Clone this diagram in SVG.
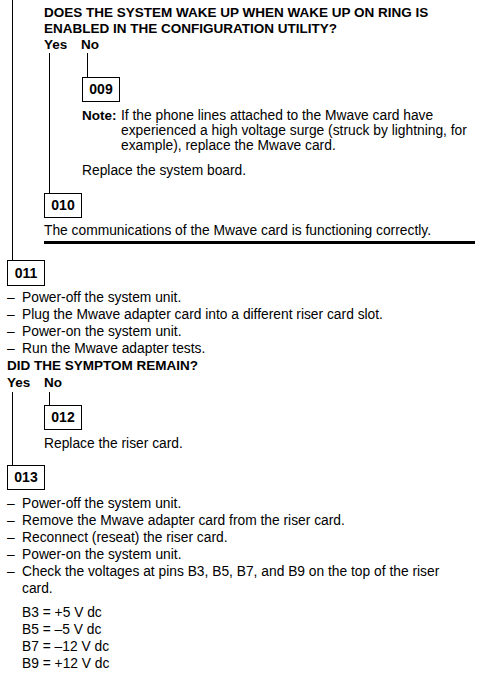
<svg xmlns="http://www.w3.org/2000/svg" width="483" height="677" viewBox="0 0 483 677">
<style>
text{font-family:"Liberation Sans",Arial,sans-serif;font-size:13.8px;fill:#000}
.b{font-weight:bold;font-size:13.5px}
.box{fill:#fff;stroke:#000;stroke-width:1}
.num{font-weight:bold;font-size:14px;text-anchor:middle}
.ln{stroke:#000;stroke-width:1;fill:none}
</style>
<rect width="483" height="677" fill="#fff"/>
<g id="connectors">
<line class="ln" x1="12.5" y1="0" x2="12.5" y2="260"/>
<line class="ln" x1="49.5" y1="53" x2="49.5" y2="193"/>
<line class="ln" x1="87.5" y1="53" x2="87.5" y2="77"/>
<line class="ln" x1="12.5" y1="392" x2="12.5" y2="465"/>
<line class="ln" x1="49.5" y1="392" x2="49.5" y2="405"/>
<line x1="44" y1="242.5" x2="475" y2="242.5" stroke="#000" stroke-width="3"/>
</g>
<g id="q1">
<text class="b" x="44" y="17">DOES THE SYSTEM WAKE UP WHEN WAKE UP ON RING IS</text>
<text class="b" x="44" y="33">ENABLED IN THE CONFIGURATION UTILITY?</text>
<text class="b" x="44" y="49">Yes</text>
<text class="b" x="81" y="49">No</text>
</g>
<g id="n009">
<rect class="box" x="82.5" y="77.5" width="37" height="24"/>
<text class="num" x="101" y="94">009</text>
<text class="b" x="82" y="120">Note:</text>
<text x="121" y="120">If the phone lines attached to the Mwave card have</text>
<text x="121" y="135">experienced a high voltage surge (struck by lightning, for</text>
<text x="121" y="150">example), replace the Mwave card.</text>
<text x="82" y="175">Replace the system board.</text>
</g>
<g id="n010">
<rect class="box" x="44.5" y="193.5" width="37" height="24"/>
<text class="num" x="63" y="210">010</text>
<text x="44" y="235">The communications of the Mwave card is functioning correctly.</text>
</g>
<g id="n011">
<rect class="box" x="7.5" y="260.5" width="37" height="25"/>
<text class="num" x="26" y="278">011</text>
<text x="7" y="302">–</text><text x="22" y="302">Power-off the system unit.</text>
<text x="7" y="319">–</text><text x="22" y="319">Plug the Mwave adapter card into a different riser card slot.</text>
<text x="7" y="336">–</text><text x="22" y="336">Power-on the system unit.</text>
<text x="7" y="353">–</text><text x="22" y="353">Run the Mwave adapter tests.</text>
<text class="b" x="7" y="370">DID THE SYMPTOM REMAIN?</text>
<text class="b" x="7" y="387">Yes</text>
<text class="b" x="44" y="387">No</text>
</g>
<g id="n012">
<rect class="box" x="44.5" y="405.5" width="37" height="24"/>
<text class="num" x="63" y="422">012</text>
<text x="44" y="448">Replace the riser card.</text>
</g>
<g id="n013">
<rect class="box" x="7.5" y="465.5" width="37" height="24"/>
<text class="num" x="26" y="482">013</text>
<text x="7" y="508">–</text><text x="22" y="508">Power-off the system unit.</text>
<text x="7" y="525">–</text><text x="22" y="525">Remove the Mwave adapter card from the riser card.</text>
<text x="7" y="542">–</text><text x="22" y="542">Reconnect (reseat) the riser card.</text>
<text x="7" y="559">–</text><text x="22" y="559">Power-on the system unit.</text>
<text x="7" y="576">–</text><text x="22" y="576">Check the voltages at pins B3, B5, B7, and B9 on the top of the riser</text>
<text x="22" y="593">card.</text>
<text x="22" y="617">B3 = +5 V dc</text>
<text x="22" y="634">B5 = –5 V dc</text>
<text x="22" y="651">B7 = –12 V dc</text>
<text x="22" y="668">B9 = +12 V dc</text>
</g>
</svg>
